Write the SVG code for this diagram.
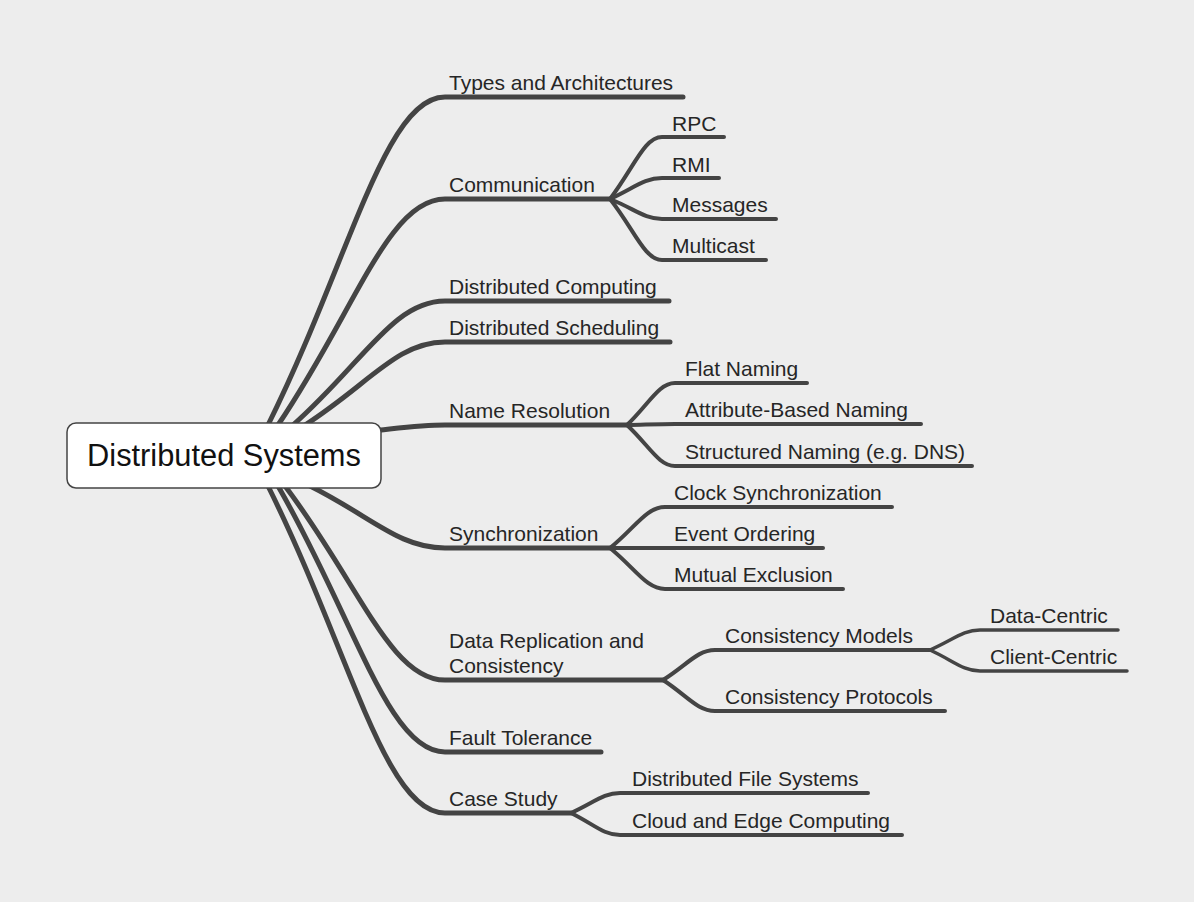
<svg xmlns="http://www.w3.org/2000/svg" width="1194" height="902" viewBox="0 0 1194 902">
<style>
.bg{fill:#ededed}
.c{fill:none;stroke:#444;stroke-linecap:round;stroke-linejoin:round}
.w1{stroke-width:5}
.w2{stroke-width:4}
.w3{stroke-width:3.5}
.t{font-family:"Liberation Sans",Arial,Helvetica,sans-serif;font-size:21px;fill:#262626}
.root{fill:#fff;stroke:#444;stroke-width:1.5}
.rt{font-family:"Liberation Sans",Arial,Helvetica,sans-serif;font-size:30.8px;fill:#111;text-anchor:middle}
</style>
<rect class="bg" x="0" y="0" width="1194" height="902"/>
<g id="connectors">
<path class="c w1" d="M268 425 C349.4 261 384.8 97 445 97 L683 97"/>
<path class="c w1" d="M278 425 C354.8 312 388.2 199 445 199 L610 199"/>
<path class="c w1" d="M293 425 C363 363 393.3 301 445 301 L669 301"/>
<path class="c w1" d="M305 425 C369.4 383.5 397.4 342 445 342 L670 342"/>
<path class="c w1" d="M370 431 C400 428 420 425 445 425 L627 425"/>
<path class="c w1" d="M310 486 C372 517 399 548 445 548 L610 548"/>
<path class="c w1" d="M285 486 C358.6 583 390.6 680 445 680 L663 680"/>
<path class="c w1" d="M278 486 C354.8 619 388.2 752 445 752 L601 752"/>
<path class="c w1" d="M268 486 C349.4 649.5 384.8 813 445 813 L571 813"/>
<path class="c w2" d="M610 199 C634 167.5 644.3 137 662 137 L724 137"/>
<path class="c w2" d="M610 199 C634 188 644.3 178 662 178 L719 178"/>
<path class="c w2" d="M610 199 C634 208.5 644.3 219 662 219 L776 219"/>
<path class="c w2" d="M610 199 C634 229 644.3 260 662 260 L766 260"/>
<path class="c w2" d="M627 425 C649 404 658.7 383 675 383 L807 383"/>
<path class="c w2" d="M627 425 C649 424.5 660 424 675 424 L921 424"/>
<path class="c w2" d="M627 425 C649 445.5 658.7 466 675 466 L972 466"/>
<path class="c w2" d="M610 548 C635.3 527.5 646.3 507 665 507 L892 507"/>
<path class="c w2" d="M610 548 L823 548"/>
<path class="c w2" d="M610 548 C635.3 568.5 646.3 589 665 589 L843 589"/>
<path class="c w2" d="M663 680 C687 665 697.3 650 715 650 L930 650"/>
<path class="c w2" d="M663 680 C687 695.5 697.3 711 715 711 L945 711"/>
<path class="c w3" d="M930 650 C953 640 963 630 980 630 L1118 630"/>
<path class="c w3" d="M930 650 C953 660.5 963 671 980 671 L1127 671"/>
<path class="c w2" d="M571 813 C593.5 803 603.3 793 620 793 L868 793"/>
<path class="c w2" d="M571 813 C593.5 824 603.3 835 620 835 L902 835"/>
</g>
<g id="root"><rect class="root" x="67" y="423" width="314" height="65" rx="9"/><text class="rt" x="224" y="466">Distributed Systems</text></g>
<g id="types"><text class="t" x="449" y="90">Types and Architectures</text></g>
<g id="communication"><text class="t" x="449" y="192">Communication</text></g>
<g id="rpc"><text class="t" x="672" y="131">RPC</text></g>
<g id="rmi"><text class="t" x="672" y="172">RMI</text></g>
<g id="messages"><text class="t" x="672" y="212">Messages</text></g>
<g id="multicast"><text class="t" x="672" y="253">Multicast</text></g>
<g id="dcomputing"><text class="t" x="449" y="294">Distributed Computing</text></g>
<g id="dscheduling"><text class="t" x="449" y="335">Distributed Scheduling</text></g>
<g id="nameres"><text class="t" x="449" y="418">Name Resolution</text></g>
<g id="flat"><text class="t" x="685" y="376">Flat Naming</text></g>
<g id="attr"><text class="t" x="685" y="417">Attribute-Based Naming</text></g>
<g id="structured"><text class="t" x="685" y="459">Structured Naming (e.g. DNS)</text></g>
<g id="sync"><text class="t" x="449" y="541">Synchronization</text></g>
<g id="clock"><text class="t" x="674" y="500">Clock Synchronization</text></g>
<g id="event"><text class="t" x="674" y="541">Event Ordering</text></g>
<g id="mutex"><text class="t" x="674" y="582">Mutual Exclusion</text></g>
<g id="datarep"><text class="t" x="449" y="648">Data Replication and</text><text class="t" x="449" y="673">Consistency</text></g>
<g id="models"><text class="t" x="725" y="643">Consistency Models</text></g>
<g id="datacentric"><text class="t" x="990" y="623">Data-Centric</text></g>
<g id="clientcentric"><text class="t" x="990" y="664">Client-Centric</text></g>
<g id="protocols"><text class="t" x="725" y="704">Consistency Protocols</text></g>
<g id="fault"><text class="t" x="449" y="745">Fault Tolerance</text></g>
<g id="casestudy"><text class="t" x="449" y="806">Case Study</text></g>
<g id="dfs"><text class="t" x="632" y="786">Distributed File Systems</text></g>
<g id="cloud"><text class="t" x="632" y="828">Cloud and Edge Computing</text></g>
</svg>
